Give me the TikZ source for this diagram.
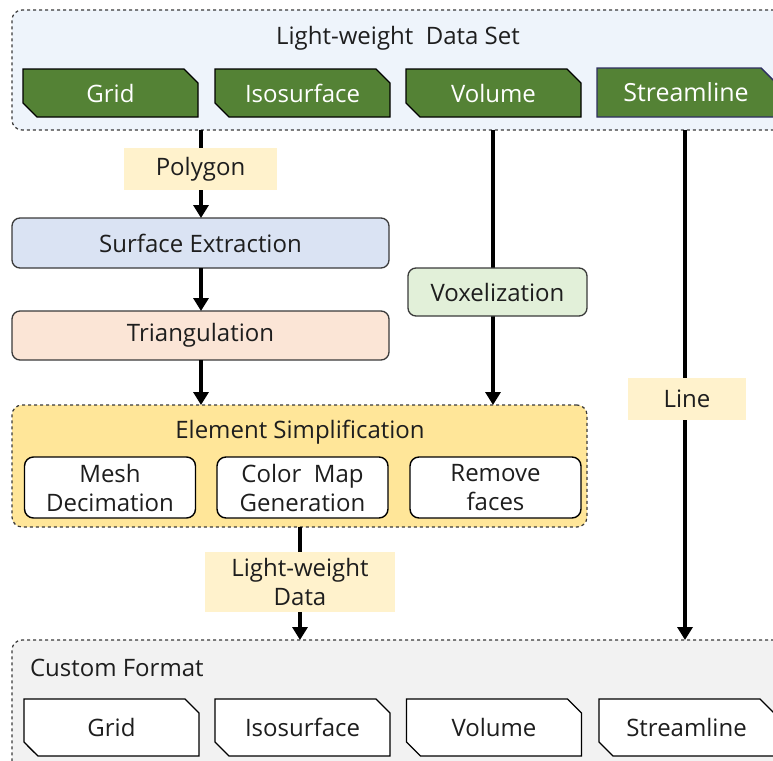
\documentclass[tikz,border=0pt]{standalone}
\usepackage{fontspec}
\setmainfont{Open Sans}
\usetikzlibrary{shapes.misc,arrows.meta}
\definecolor{topfill}{HTML}{EEF4FB}
\definecolor{grn}{HTML}{548235}
\definecolor{lblfill}{HTML}{FFF2CC}
\definecolor{sefill}{HTML}{DAE3F3}
\definecolor{trfill}{HTML}{FBE5D6}
\definecolor{vxfill}{HTML}{E2F0D9}
\definecolor{esfill}{HTML}{FFE699}
\definecolor{cffill}{HTML}{F2F2F2}
\definecolor{txt}{HTML}{1E1E1E}
\definecolor{bord}{HTML}{3A3A3A}
\begin{document}
\begin{tikzpicture}[x=1pt,y=-1pt,
  every node/.style={inner sep=0pt,outer sep=0pt,text=txt,font=\fontsize{24}{29}\selectfont},
  container/.style={draw=bord,dashed,line width=1.2pt,rounded corners=10pt,rectangle},
  snip/.style={chamfered rectangle,chamfered rectangle corners={north east,south west},
     chamfered rectangle xsep=7pt,chamfered rectangle ysep=7pt,draw=black,line width=1.4pt,
     minimum width=175pt,minimum height=48pt},
  greenbox/.style={snip,fill=grn,text=white},
  whitebox/.style={snip,fill=white,minimum height=57pt},
  procbox/.style={draw=bord,line width=1.3pt,rounded corners=8pt,rectangle},
  innerbox/.style={draw=black,line width=1.4pt,fill=white,rounded corners=9pt,rectangle,
     minimum width=171pt,minimum height=61pt,align=center,font=\fontsize{24}{29}\selectfont},
  lbl/.style={fill=lblfill,rectangle},
  arr/.style={line width=4pt,draw=black,-{Triangle[width=15pt,length=13pt]}},
]
\useasboundingbox (0,0) rectangle (773,760);
\begin{scope}
\clip (0,0) rectangle (773,760);
% top container
\node[container,fill=topfill,minimum width=790pt,minimum height=120pt] (top) at (407,70) {};
\node (toptitle) at (398,38) {Light-weight\ \ Data Set};
\node[greenbox] (g1) at (110.5,93) {Grid};
\node[greenbox] (g2) at (302.5,93) {Isosurface};
\node[greenbox] (g3) at (493.5,93) {Volume};
\node[snip,chamfered rectangle corners={north east},fill=grn,text=white,draw=bord!80!blue,
  minimum width=178pt,minimum height=49pt,font=\fontsize{25}{30}\selectfont] (g4) at (686,92.5) {Streamline};

% process boxes
\node[procbox,fill=sefill,minimum width=377pt,minimum height=50pt] (se) at (200.5,243) {Surface Extraction};
\node[procbox,fill=trfill,minimum width=377pt,minimum height=49pt] (tr) at (200.5,335.5) {Triangulation};

% element simplification
\node[container,fill=esfill,minimum width=575pt,minimum height=122pt] (es) at (299.5,466) {};
\node (estitle) at (300,432) {Element Simplification};
\node[innerbox] (md) at (110,487.5) {Mesh\\Decimation};
\node[innerbox] (cm) at (302.5,487.5) {Color\ \ Map\\Generation};
\node[innerbox] (rf) at (495.5,487.5) {Remove\\faces};

% custom format
\node[container,fill=cffill,minimum width=790pt,minimum height=140pt] (cf) at (407,710) {};
\node[anchor=west] (cftitle) at (30,668) {Custom Format};
\node[whitebox] (w1) at (111.5,727.5) {Grid};
\node[whitebox] (w2) at (302.5,727.5) {Isosurface};
\node[whitebox] (w3) at (494,727.5) {Volume};
\node[whitebox] (w4) at (686.5,727.5) {Streamline};

% arrows
\coordinate (a1s) at (201,130);
\draw[arr] (a1s) -- (se.north -| a1s);
\node[lbl,minimum width=153pt,minimum height=42pt] (poly) at (200.5,169) {Polygon};
\draw[arr] (se.south -| a1s) -- (tr.north -| a1s);
\draw[arr] (tr.south -| a1s) -- (es.north -| a1s);
\coordinate (a3s) at (493,130);
\draw[arr] (a3s) -- (es.north -| a3s);
\node[procbox,fill=vxfill,minimum width=179pt,minimum height=48pt] (vx) at (497.5,292) {Voxelization};
\coordinate (a4s) at (685,130);
\draw[arr] (a4s) -- (cf.north -| a4s);
\node[lbl,minimum width=118pt,minimum height=42pt] (line) at (687,399) {Line};
\coordinate (a5s) at (300,527);
\draw[arr] (a5s) -- (cf.north -| a5s);
\node[lbl,minimum width=190pt,minimum height=60pt,align=center] (lwd) at (300,582) {Light-weight\\Data};
\end{scope}
\end{tikzpicture}
\end{document}
